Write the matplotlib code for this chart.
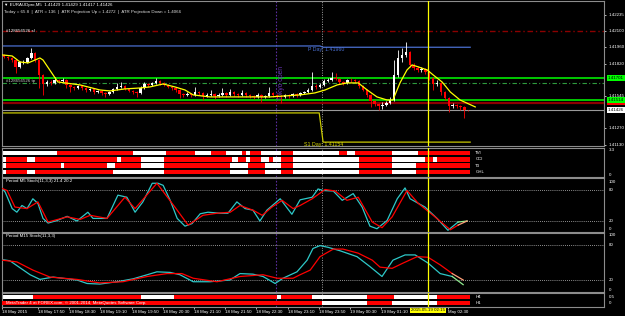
import matplotlib
matplotlib.use("Agg")
import matplotlib.pyplot as plt
import numpy as np

# ---- price data (M5 bars, index 0 = first visible bar) ----
first_open = 1.41895
closes = [
    1.41878, 1.41869, 1.41852, 1.41793, 1.41835, 1.41835, 1.41869, 1.41912, 1.41852, 1.41725,
    1.41648, 1.41665, 1.41657, 1.41682, 1.41674, 1.41682, 1.41640, 1.41623, 1.41614, 1.41631,
    1.41614, 1.41597, 1.41606, 1.41580, 1.41589, 1.41572, 1.41563, 1.41580, 1.41606, 1.41623,
    1.41631, 1.41606, 1.41589, 1.41580, 1.41572, 1.41614, 1.41648, 1.41640, 1.41657, 1.41674,
    1.41657, 1.41640, 1.41623, 1.41614, 1.41597, 1.41563, 1.41555, 1.41563, 1.41555, 1.41580,
    1.41572, 1.41546, 1.41555, 1.41563, 1.41546, 1.41555, 1.41572, 1.41555, 1.41580, 1.41563,
    1.41555, 1.41572, 1.41555, 1.41546, 1.41538, 1.41555, 1.41538, 1.41546, 1.41572, 1.41555,
    1.41546, 1.41538, 1.41555, 1.41546, 1.41563, 1.41555, 1.41572, 1.41580, 1.41597, 1.41631,
    1.41623, 1.41640, 1.41674, 1.41682, 1.41699, 1.41691, 1.41665, 1.41657, 1.41682, 1.41680,
    1.41674, 1.41631, 1.41597, 1.41555, 1.41504, 1.41478, 1.41461, 1.41470, 1.41487, 1.41512,
    1.41725, 1.41869, 1.41895, 1.41920, 1.41810, 1.41784, 1.41767, 1.41776, 1.41750, 1.41699,
    1.41648, 1.41657, 1.41580, 1.41529, 1.41461, 1.41470, 1.41461, 1.41453, 1.41429, 1.41426,
]
highs = [
    1.41903, 1.41886, 1.41878, 1.41861, 1.41844, 1.41852, 1.41878, 1.41954, 1.41920, 1.41861,
    1.41733, 1.41682, 1.41682, 1.41708, 1.41691, 1.41699, 1.41691, 1.41648, 1.41631, 1.41640,
    1.41640, 1.41623, 1.41614, 1.41614, 1.41597, 1.41597, 1.41580, 1.41589, 1.41614, 1.41657,
    1.41665, 1.41640, 1.41614, 1.41597, 1.41589, 1.41631, 1.41665, 1.41657, 1.41665, 1.41699,
    1.41682, 1.41665, 1.41648, 1.41631, 1.41623, 1.41606, 1.41572, 1.41580, 1.41572, 1.41623,
    1.41589, 1.41580, 1.41572, 1.41597, 1.41572, 1.41572, 1.41614, 1.41580, 1.41606, 1.41589,
    1.41572, 1.41597, 1.41580, 1.41563, 1.41555, 1.41572, 1.41563, 1.41555, 1.41623, 1.41580,
    1.41563, 1.41555, 1.41563, 1.41563, 1.41572, 1.41572, 1.41580, 1.41589, 1.41614, 1.41750,
    1.41648, 1.41657, 1.41691, 1.41699, 1.41750, 1.41742, 1.41699, 1.41674, 1.41691, 1.41699,
    1.41691, 1.41682, 1.41640, 1.41606, 1.41563, 1.41512, 1.41487, 1.41495, 1.41504, 1.41538,
    1.41852, 1.41937, 1.41954, 1.42005, 1.41929, 1.41827, 1.41801, 1.41793, 1.41784, 1.41759,
    1.41708, 1.41682, 1.41665, 1.41589, 1.41538, 1.41487, 1.41478, 1.41470, 1.41461, 1.41429,
]
lows = [
    1.41869, 1.41852, 1.41835, 1.41742, 1.41784, 1.41818, 1.41827, 1.41861, 1.41835, 1.41614,
    1.41555, 1.41631, 1.41640, 1.41648, 1.41657, 1.41665, 1.41614, 1.41580, 1.41597, 1.41606,
    1.41597, 1.41580, 1.41589, 1.41563, 1.41572, 1.41555, 1.41538, 1.41555, 1.41572, 1.41597,
    1.41614, 1.41597, 1.41580, 1.41563, 1.41538, 1.41563, 1.41606, 1.41623, 1.41631, 1.41648,
    1.41640, 1.41631, 1.41614, 1.41597, 1.41580, 1.41529, 1.41538, 1.41546, 1.41538, 1.41546,
    1.41555, 1.41512, 1.41538, 1.41546, 1.41521, 1.41538, 1.41546, 1.41538, 1.41546, 1.41546,
    1.41538, 1.41546, 1.41538, 1.41529, 1.41521, 1.41529, 1.41495, 1.41529, 1.41538, 1.41538,
    1.41529, 1.41487, 1.41529, 1.41529, 1.41538, 1.41538, 1.41546, 1.41563, 1.41572, 1.41589,
    1.41606, 1.41614, 1.41631, 1.41665, 1.41674, 1.41682, 1.41648, 1.41640, 1.41648, 1.41665,
    1.41657, 1.41614, 1.41589, 1.41538, 1.41453, 1.41461, 1.41427, 1.41436, 1.41461, 1.41478,
    1.41504, 1.41708, 1.41835, 1.41878, 1.41793, 1.41767, 1.41750, 1.41750, 1.41733, 1.41682,
    1.41597, 1.41631, 1.41555, 1.41512, 1.41410, 1.41444, 1.41444, 1.41427, 1.41359, 1.41417,
]

# moving average (yellow) vertices: bar index, price
ma_bars = [-0.5, 2.1, 4.1, 6.2, 9.2, 10.0, 13.8, 19.5, 24.6, 27.2, 31.0, 34.9, 37.4, 40.8,
           43.8, 46.4, 48.5, 52.8, 60.5, 68.2, 75.9, 79.7, 82.3, 85.4, 87.9, 90.8, 93.1,
           95.6, 98.2, 99.7, 101.5, 103.3, 104.6, 106.2, 108.5, 110.0, 112.3, 114.4, 116.9, 120.8]
ma_vals = [1.41895, 1.41886, 1.41835, 1.41827, 1.41869, 1.41852, 1.41665, 1.41640, 1.41597,
           1.41589, 1.41606, 1.41614, 1.41623, 1.41648, 1.41623, 1.41597, 1.41555, 1.41538,
           1.41538, 1.41538, 1.41555, 1.41572, 1.41597, 1.41640, 1.41657, 1.41657, 1.41597,
           1.41538, 1.41512, 1.41512, 1.41657, 1.41767, 1.41810, 1.41793, 1.41767, 1.41725,
           1.41665, 1.41580, 1.41512, 1.41453]

# horizontal levels
sl_level = 1.42100
tp_level = 1.41657
green_levels = [1.41701, 1.41514]
order_level = 1.41490
bid_level = 1.41426
pday_bars = [-0.5, 81.0, 81.8, 119.5]
pday_vals = [1.41971, 1.41971, 1.41960, 1.41960]
s1_bars = [-0.5, 80.8, 81.8, 119.5]
s1_vals = [1.41402, 1.41402, 1.41154, 1.41154]
price_ticks = [1.42235, 1.42100, 1.41960, 1.41820, 1.41545, 1.41270, 1.41130]

# vertical markers (bar index)
tokyo_bar = 69.8
day_bar = 81.5
cursor_bar = 108.7

# Renko panel: red segments (start bar, end bar) per row
renko_rows = ["TVI", "CCI", "T3", "GHL"]
renko_red = [
    [(13.5, 33.0), (41.5, 49.0), (53.0, 57.0), (61.0, 62.0), (63.0, 66.0), (71.0, 74.0),
     (86.0, 88.0), (90.0, 99.5), (106.0, 119.5)],
    [(0.5, 6.0), (8.0, 29.0), (30.0, 35.0), (41.0, 58.5), (60.0, 62.0), (63.0, 66.0),
     (68.0, 69.0), (71.0, 74.0), (91.0, 99.5), (108.0, 110.0), (111.0, 119.5)],
    [(0.5, 14.5), (15.5, 26.5), (28.5, 35.0), (41.0, 58.0), (62.5, 67.0), (71.0, 74.0),
     (91.0, 99.5), (105.5, 119.5)],
    [(0.5, 6.0), (8.0, 28.0), (41.0, 58.0), (62.5, 67.0), (71.0, 74.0), (91.0, 99.5),
     (105.5, 119.5)],
]

# stochastic M5 (vertices)
m5_main_bars = [-0.5, 0.3, 2.1, 3.3, 4.6, 5.9, 7.4, 8.7, 10.0, 11.3, 13.6, 16.2, 18.7, 21.5,
                22.8, 26.4, 29.2, 31.5, 33.6, 35.6, 38.0, 39.5, 40.8, 42.6, 44.4, 46.4, 48.2,
                50.3, 52.3, 55.4, 57.4, 59.7, 61.8, 63.8, 65.6, 67.4, 70.8, 73.8, 75.9, 79.0,
                80.5, 81.8, 84.4, 86.7, 89.5, 91.8, 93.8, 95.6, 98.2, 100.8, 102.8, 104.1,
                107.9, 111.0, 113.8, 116.4, 118.7]
m5_main = [83, 76, 44, 37, 50, 44, 63, 54, 25, 16, 21, 29, 20, 37, 25, 25, 70, 66, 37, 57, 93,
           93, 89, 60, 25, 10, 15, 34, 37, 35, 35, 57, 44, 41, 20, 41, 63, 33, 61, 66, 82, 79,
           78, 60, 73, 47, 10, 5, 21, 63, 84, 63, 47, 25, 2, 18, 20]
m5_sig_bars = [-0.5, 0.8, 2.8, 5.9, 8.7, 11.3, 16.2, 19.5, 22.1, 26.4, 31.0, 33.6, 39.2, 43.8,
               47.2, 51.0, 54.6, 58.0, 60.5, 63.8, 66.2, 68.7, 71.3, 74.1, 75.9, 79.0, 82.3,
               84.9, 87.9, 90.8, 94.4, 96.9, 99.5, 103.3, 106.2, 110.0, 114.4, 116.4, 118.7]
m5_sig = [83, 79, 47, 44, 57, 18, 28, 23, 31, 25, 66, 44, 93, 47, 12, 31, 35, 37, 50, 41, 31,
          47, 60, 44, 50, 63, 81, 78, 60, 66, 18, 7, 28, 79, 54, 31, 3, 12, 20]

# stochastic M15 (vertices)
m15_main_bars = [-0.5, 1.5, 6.7, 9.2, 12.6, 18.7, 21.3, 24.6, 29.0, 33.1, 36.7, 39.2, 42.6,
                 45.1, 48.5, 52.8, 57.9, 60.5, 63.8, 66.4, 69.5, 71.5, 75.1, 77.7, 79.2, 81.0,
                 83.1, 86.2, 90.5, 93.8, 96.9, 99.7, 102.8, 105.4, 108.7, 111.8, 114.9, 117.7]
m15_main = [55, 53, 29, 21, 25, 20, 14, 13, 17, 22, 29, 34, 33, 29, 17, 17, 20, 31, 30, 26,
            14, 23, 34, 54, 74, 79, 76, 70, 60, 43, 26, 54, 63, 63, 49, 31, 26, 12]
m15_sig_bars = [-0.5, 3.3, 7.4, 11.8, 18.7, 24.6, 30.5, 36.7, 41.8, 45.6, 48.5, 54.6, 60.5,
                66.4, 70.0, 74.1, 75.9, 78.5, 81.0, 84.4, 86.9, 90.8, 94.4, 96.4, 99.5, 102.3,
                105.9, 108.7, 111.8, 114.9, 117.7]
m15_sig = [54, 51, 37, 25, 21, 15, 17, 26, 31, 31, 23, 17, 26, 29, 23, 23, 29, 37, 60, 73, 73,
           66, 54, 42, 40, 49, 60, 59, 46, 31, 20]

# bottom trend panel: red segments per row
trend_rows = ["H4", "H1"]
trend_red = [
    [(7.5, 35.0), (43.5, 70.0), (71.0, 79.0), (93.0, 100.0), (111.0, 119.5)],
    [(-0.5, 81.5), (93.0, 99.5), (111.0, 119.5)],
]

time_labels = ["18 May 2015", "18 May 17:50", "18 May 18:30", "18 May 19:10", "18 May 19:50",
               "18 May 20:30", "18 May 21:10", "18 May 21:50", "18 May 22:30", "18 May 23:10",
               "18 May 23:50", "19 May 00:30", "19 May 01:10", "May 02:30"]
time_label_bars = [-0.5, 8.7, 16.7, 24.7, 32.7, 40.7, 48.7, 56.7, 64.7, 72.7, 80.7, 88.7,
                   96.7, 113.9]
cursor_time = "2015.05.19 02:15"

plt.rcParams["font.family"] = ["Liberation Sans", "DejaVu Sans"]
FS = 3.2
GRAY = "#8c8c8c"
W, H = 625, 316
XLIM = (-0.51, 153.8)


def panel(top, bottom):
    ax = fig.add_axes([2 / W, 1 - bottom / H, 602 / W, (bottom - top) / H], facecolor="black")
    ax.set_xlim(*XLIM)
    for s in ax.spines.values():
        s.set_color(GRAY)
        s.set_linewidth(0.8)
    ax.set_xticks([])
    ax.set_yticks([])
    return ax


def right_label(ax, y, text, va="center"):
    ax.text(1.008, y, text, transform=ax.get_yaxis_transform(), color="white",
            fontsize=FS, va=va, ha="left", clip_on=False)


def vmarkers(ax):
    ax.axvline(tokyo_bar, color="#5b2d9e", lw=0.8, ls=(0, (1.5, 1.5)), zorder=1)
    ax.axvline(day_bar, color="#a0a0a0", lw=0.7, ls=(0, (1, 1.5)), zorder=1)
    ax.axvline(cursor_bar, color="#ffff00", lw=0.9, zorder=6)


fig = plt.figure(figsize=(6.25, 3.16), dpi=100, facecolor="black")

# ---------------- main price panel ----------------
ax1 = panel(1, 146)
ax1.set_ylim(1.41121, 1.42353)
vmarkers(ax1)
ax1.axhline(sl_level, color="#8b0000", lw=1.0, ls=(0, (4, 2, 1, 2)))
ax1.axhline(tp_level, color="#2e9a3e", lw=0.8, ls=(0, (4, 2, 1, 2)))
for lv in green_levels:
    ax1.axhline(lv, color="#00ff00", lw=1.1)
ax1.axhline(order_level, color="#8b0000", lw=1.6)
ax1.axhline(bid_level, color="#9a9a9a", lw=0.8)
ax1.plot(pday_bars, pday_vals, color="#4a6fd0", lw=0.9)
ax1.plot(s1_bars, s1_vals, color="#c8c800", lw=0.9)
ax1.text(77.8, pday_vals[-1] - 0.00002, "P Day: 1.41960", color="#4a6fd0", fontsize=FS + 0.6,
         va="top", ha="left")
ax1.text(77.0, s1_vals[-1] - 0.00002, "S1 Day: 1.41154", color="#d8d800", fontsize=FS + 0.6,
         va="top", ha="left")
ax1.text(0.5, sl_level, "#128656526 sl", color="white", fontsize=FS, va="center", ha="left")
ax1.text(0.5, tp_level + 0.00018, "#128656526 tp", color="#cccccc", fontsize=FS, va="center",
         ha="left")
ax1.text(tokyo_bar + 0.5, 1.41660, "Tokyo open", color="#6a35b8", fontsize=FS + 1.6,
         rotation=90, va="center", ha="left")

idx = np.arange(len(closes))
c = np.array(closes)
o = np.array([first_open] + closes[:-1])
hi = np.array(highs)
lo = np.array(lows)
up = c >= o
cols = np.where(up, "#ffffff", "#ff0000")
ax1.vlines(idx, lo, hi, colors=cols, lw=0.6, zorder=3)
body = np.maximum(np.abs(c - o), 0.00003)
ax1.bar(idx, body, bottom=np.minimum(o, c), width=0.62, color=cols, lw=0, zorder=4)
ax1.plot(ma_bars, ma_vals, color="#ffff00", lw=0.9, zorder=5)

ax1.yaxis.tick_right()
ax1.set_yticks(price_ticks)
ax1.tick_params(axis="y", colors="white", length=1.5, width=0.5, labelright=False)
for t in price_ticks:
    right_label(ax1, t, f"{t:.5f}")
boxes = [(order_level, "#ff0000", "#ff0000", 9), (green_levels[0], "#00ff00", "black", 10),
         (green_levels[1], "#00ff00", "black", 10), (bid_level, "white", "black", 10)]
for lv, bg, fg, z in boxes:
    ax1.text(1.006, lv, f"{lv:.5f}", transform=ax1.get_yaxis_transform(), color=fg,
             fontsize=FS, va="center", ha="left", clip_on=False, zorder=z,
             bbox=dict(boxstyle="square,pad=0.2", fc=bg, ec="none"))

fig.text(4 / W, 1 - 5 / H, "\u25bc EURAUDpro,M5  1.41429 1.41429 1.41417 1.41426",
         color="white", fontsize=FS, va="center", ha="left")
fig.text(4 / W, 1 - 12 / H,
         "Today = 65.8  |  ATR = 136  |  ATR Projection Up = 1.4272  |  ATR Projection Down = 1.4066",
         color="#e0e0e0", fontsize=FS, va="center", ha="left")

# ---------------- renko panel ----------------
ax2 = panel(148, 177)
ax2.set_ylim(3.79, -0.79)
vmarkers(ax2)
for r, segs in enumerate(renko_red):
    ax2.broken_barh([(-0.5, 120.0)], (r - 0.37, 0.74), facecolors="white", zorder=2)
    ax2.broken_barh([(a, b - a) for a, b in segs], (r - 0.37, 0.74), facecolors="#ff0000",
                    zorder=3)
    ax2.text(120.8, r, renko_rows[r], color="white", fontsize=FS, va="center", ha="left")
ax2.text(0.5, 0, "Renko 2.21_v(M5)", color="white", fontsize=FS, va="center", ha="left",
         zorder=7)
right_label(ax2, -0.45, "3.3")
right_label(ax2, 3.45, "0")

# ---------------- stochastic panels ----------------
ax3 = panel(178, 232)
ax3.set_ylim(-1.3, 103.2)
ax4 = panel(233, 292)
ax4.set_ylim(-0.6, 100.6)
stochs = [(ax3, m5_main_bars, m5_main, m5_sig_bars, m5_sig, "Period M5 Stoch(11,3,3) 21.4 20.2"),
          (ax4, m15_main_bars, m15_main, m15_sig_bars, m15_sig, "Period M15 Stoch(11,3,3)")]
for ax, mb, mv, sb, sv, title in stochs:
    vmarkers(ax)
    ax.axhline(80, color="#c0c0c0", lw=0.6, ls=(0, (1, 1.5)))
    ax.axhline(20, color="#c0c0c0", lw=0.6, ls=(0, (1, 1.5)))
    ax.plot(mb[:-1], mv[:-1], color="#2ec8c8", lw=0.9, zorder=4)
    ax.plot(mb[-2:], mv[-2:], color="#90ee90", lw=0.9, zorder=4)
    ax.plot(sb[:-1], sv[:-1], color="#ff0000", lw=0.9, zorder=5)
    ax.plot(sb[-2:], sv[-2:], color="#ffa07a", lw=0.9, zorder=5)
    ax.text(0.5, 0.985, title, transform=ax.get_xaxis_transform(), color="white",
            fontsize=FS, va="top", ha="left")
    right_label(ax, 100, "100", va="top")
    right_label(ax, 80, "80")
    right_label(ax, 20, "20")
    right_label(ax, 0, "0", va="bottom")

# ---------------- trend panel ----------------
ax5 = panel(293, 307)
ax5.set_ylim(1.67, -0.67)
vmarkers(ax5)
for r, segs in enumerate(trend_red):
    ax5.broken_barh([(-0.5, 120.0)], (r - 0.35, 0.7), facecolors="white", zorder=2)
    ax5.broken_barh([(a, b - a) for a, b in segs], (r - 0.35, 0.7), facecolors="#ff0000",
                    zorder=3)
    ax5.text(120.8, r, trend_rows[r], color="white", fontsize=FS, va="center", ha="left")
ax5.text(1.0, 0, "TSCTrend", color="white", fontsize=FS, va="center", ha="left", zorder=7)
ax5.text(0.5, 1, "MetaTrader 4 at FOREX.com, \u00a9 2001-2014, MetaQuotes Software Corp.",
         color="white", fontsize=FS, va="center", ha="left", zorder=7)
right_label(ax5, 0, "0.5")
right_label(ax5, 1, "0")

ax5.set_xticks(time_label_bars)
ax5.set_xticklabels(time_labels)
ax5.tick_params(axis="x", colors="white", labelsize=FS, length=1.5, width=0.5, pad=0.8)
for lab in ax5.get_xticklabels():
    lab.set_horizontalalignment("left")
ax5.text(cursor_bar, -0.1, cursor_time, transform=ax5.get_xaxis_transform(), color="black",
         fontsize=FS, va="top", ha="center", clip_on=False, zorder=20,
         bbox=dict(boxstyle="square,pad=0.2", fc="#ffff00", ec="none"))

fig.savefig("out.png", dpi=100, facecolor="black")
